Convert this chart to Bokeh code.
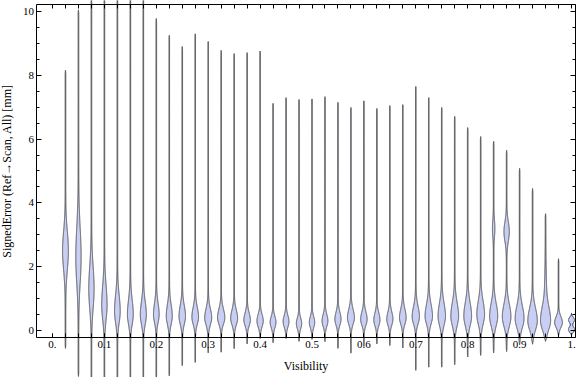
import numpy as np
from bokeh.plotting import figure
from bokeh.models import (LinearAxis, FixedTicker, Range1d, CustomJSTickFormatter,
                          ColumnDataSource)
from bokeh.embed import file_html
from bokeh.resources import INLINE

# ---------------- data ----------------
visibility = [0.025, 0.05, 0.075, 0.1, 0.125, 0.15, 0.175, 0.2, 0.225, 0.25,
              0.275, 0.3, 0.325, 0.35, 0.375, 0.4, 0.425, 0.45, 0.475, 0.5,
              0.525, 0.55, 0.575, 0.6, 0.625, 0.65, 0.675, 0.7, 0.725, 0.75,
              0.775, 0.8, 0.825, 0.85, 0.875, 0.9, 0.925, 0.95, 0.975, 1.0]
err_max = [8.16, 10.05, 10.6, 10.6, 10.6, 10.6, 10.6, 9.78, 9.25, 8.9,
           9.3, 9.06, 8.78, 8.68, 8.71, 8.76, 7.12, 7.3, 7.24, 7.26,
           7.33, 7.15, 6.99, 7.2, 6.96, 7.05, 7.08, 7.65, 7.3, 6.99,
           6.71, 6.36, 6.08, 5.93, 5.65, 5.08, 4.45, 3.66, 2.25, 0.55]
err_min = [-0.56, -1.44, -1.6, -1.6, -1.6, -1.6, -1.6, -1.5, -1.42, -1.1,
           -1.0, -0.7, -0.68, -0.57, -0.42, -0.25, -0.38, -0.25, -0.34, -0.28,
           -0.35, -0.56, -0.71, -0.5, -0.42, -0.47, -0.55, -1.25, -1.15, -1.15,
           -1.07, -0.83, -0.78, -0.7, -0.66, -0.45, -0.43, -0.34, -0.18, -0.17]
mode = [2.5, 2.3, 1.3, 0.8, 0.6, 0.5, 0.5, 0.5, 0.45, 0.45,
        0.42, 0.4, 0.4, 0.38, 0.33, 0.3, 0.26, 0.28, 0.22, 0.25,
        0.3, 0.35, 0.4, 0.35, 0.33, 0.35, 0.4, 0.43, 0.45, 0.45,
        0.45, 0.45, 0.5, 0.45, 0.43, 0.37, 0.3, 0.3, 0.25, 0.33]
spread_up = [0.6, 0.9, 0.7, 0.6, 0.5, 0.45, 0.4, 0.35, 0.35, 0.33,
             0.3, 0.28, 0.27, 0.26, 0.22, 0.2, 0.18, 0.19, 0.17, 0.18,
             0.2, 0.22, 0.26, 0.23, 0.22, 0.23, 0.27, 0.32, 0.36, 0.4,
             0.42, 0.42, 0.42, 0.4, 0.4, 0.4, 0.4, 0.42, 0.18, 0.08]
spread_down = [0.6, 0.8, 0.6, 0.45, 0.35, 0.3, 0.3, 0.25, 0.25, 0.25,
               0.22, 0.22, 0.2, 0.2, 0.18, 0.18, 0.17, 0.17, 0.16, 0.16,
               0.17, 0.18, 0.2, 0.18, 0.18, 0.18, 0.2, 0.22, 0.24, 0.28,
               0.3, 0.3, 0.3, 0.3, 0.3, 0.28, 0.28, 0.28, 0.15, 0.08]
peak = [3.3, 3.0, 3.0, 3.0, 3.2, 3.3, 3.4, 3.2, 3.4, 3.7,
        3.8, 4.0, 4.2, 4.0, 3.7, 3.6, 3.3, 3.3, 3.0, 3.0,
        3.3, 3.5, 4.0, 3.7, 3.5, 3.5, 3.8, 4.2, 4.3, 4.3,
        4.5, 4.5, 4.5, 4.7, 5.0, 5.2, 5.6, 5.6, 4.5, 3.4]
# secondary density bumps (0 = none)
mode2 = [0] * 33 + [3.2, 3.1, 0, 0, 1.2, 0, 0.03]
spread2 = [1] * 33 + [0.25, 0.3, 1, 1, 0.7, 1, 0.08]
peak2 = [0] * 33 + [1.2, 3.0, 0, 0, 0.8, 0, 3.6]

x_ticks = [0.0, 0.1, 0.2, 0.3, 0.4, 0.5, 0.6, 0.7, 0.8, 0.9, 1.0]
x_minor = [0.0] + visibility
y_ticks = [0, 2, 4, 6, 8, 10]
y_minor = [0, 0.5, 1, 1.5, 2, 2.5, 3, 3.5, 4, 4.5, 5, 5.5, 6, 6.5, 7, 7.5,
           8, 8.5, 9, 9.5, 10]

# ---------------- geometry / style ----------------
PX = 1.0 / 519.0          # x data units per pixel
WSCALE = 0.8              # density -> half width (px)
TAIL = 0.3                # tail half width (px)
X0, X1 = -0.10019, 1.00963
Y0, Y1 = -1.4734, 10.3448
FRAME_L, FRAME_R = -0.0299, 1.0077
FRAME_B, FRAME_T = -0.215, 10.22
FONT = "Liberation Serif"

xs_list, ys_list = [], []
for i, xc in enumerate(visibility):
    y = np.linspace(err_min[i], err_max[i], 1500)
    s = np.where(y >= mode[i], spread_up[i], spread_down[i])
    d = peak[i] * np.exp(-0.5 * ((y - mode[i]) / s) ** 2)
    if peak2[i] > 0:
        d = d + peak2[i] * np.exp(-0.5 * ((y - mode2[i]) / spread2[i]) ** 2)
    d = d * WSCALE + TAIL
    taper = np.clip(np.minimum(y - err_min[i], err_max[i] - y) / 0.1, 0, 1)
    w = d * taper * PX
    xs_list.append(np.concatenate([xc + w, (xc - w)[::-1]]).tolist())
    ys_list.append(np.concatenate([y, y[::-1]]).tolist())

src = ColumnDataSource(dict(xs=xs_list, ys=ys_list))

p = figure(width=576, height=377, x_range=Range1d(X0, X1), y_range=Range1d(Y0, Y1),
           output_backend="svg", toolbar_location=None,
           x_axis_location=None, y_axis_location=None,
           min_border_left=0, min_border_right=0, min_border_top=0, min_border_bottom=0)
p.outline_line_color = None
p.grid.visible = False

p.patches("xs", "ys", source=src, fill_color="#c9cff4", fill_alpha=1.0,
          line_color="#4a4a4a", line_width=1)


def style_axis(ax):
    ax.axis_line_color = "black"
    ax.major_tick_line_color = "black"
    ax.minor_tick_line_color = "black"
    ax.major_label_text_font = FONT
    ax.major_label_text_font_size = "11px"
    ax.major_label_text_color = "black"
    ax.axis_label_text_font = FONT
    ax.axis_label_text_font_size = "12px"
    ax.axis_label_text_font_style = "normal"
    ax.axis_label_text_color = "black"
    ax.major_tick_out = 0
    ax.minor_tick_out = 0


xfmt = CustomJSTickFormatter(code="""
if (Math.abs(tick) < 1e-9) return '0.';
if (Math.abs(tick - 1) < 1e-9) return '1.';
return tick.toFixed(1);
""")

bottom = LinearAxis(fixed_location=FRAME_B, bounds=(FRAME_L, FRAME_R),
                    ticker=FixedTicker(ticks=x_ticks, minor_ticks=x_minor),
                    formatter=xfmt, axis_label="Visibility")
style_axis(bottom)
bottom.major_tick_in = 4
bottom.minor_tick_in = 4
bottom.major_label_standoff = 4
bottom.axis_label_standoff = 7
p.add_layout(bottom, "below")

# frame top: ticks only (minor ticks, no labels)
top = LinearAxis(fixed_location=FRAME_T, bounds=(FRAME_L, FRAME_R),
                 ticker=FixedTicker(ticks=[], minor_ticks=x_minor))
style_axis(top)
top.major_tick_in = 0
top.minor_tick_in = 4
p.add_layout(top, "above")

left = LinearAxis(fixed_location=FRAME_L, bounds=(FRAME_B, FRAME_T),
                  ticker=FixedTicker(ticks=y_ticks, minor_ticks=y_minor),
                  axis_label="SignedError (Ref\u2192Scan, All) [mm]")
style_axis(left)
left.major_tick_in = 5
left.minor_tick_in = 3
left.major_label_standoff = 3
left.axis_label_standoff = 6
p.add_layout(left, "left")

# frame right: short ticks every 0.5, longer ticks every 2 (no labels)
right_minor = LinearAxis(fixed_location=FRAME_R, bounds=(FRAME_B, FRAME_T),
                         ticker=FixedTicker(ticks=[], minor_ticks=y_minor))
style_axis(right_minor)
right_minor.major_tick_in = 0
right_minor.minor_tick_in = 3
p.add_layout(right_minor, "right")

right_major = LinearAxis(fixed_location=FRAME_R, bounds=(FRAME_B, FRAME_T),
                         ticker=FixedTicker(ticks=[], minor_ticks=y_ticks))
style_axis(right_major)
right_major.major_tick_in = 0
right_major.minor_tick_in = 5
p.add_layout(right_major, "right")

open("out.html", "w").write(file_html(p, INLINE))
